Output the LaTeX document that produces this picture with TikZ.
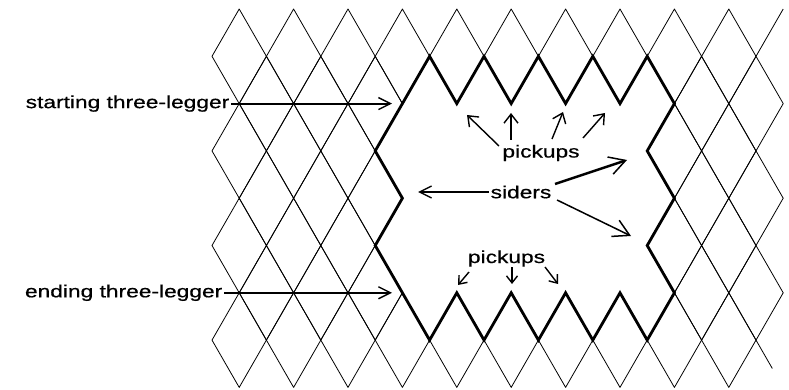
\documentclass[tikz,border=0pt]{standalone}
\usepackage{fontspec}
\setmainfont{Liberation Sans}
\newfontfamily\labfont[FakeStretch=1.3,FakeBold=0.6]{Liberation Sans}
\usetikzlibrary{arrows.meta}
\begin{document}
\begin{tikzpicture}[x=1pt,y=-1pt,
  latt/.style={line width=0.8pt, line join=round},
  rim/.style={line width=2.8pt, line join=miter},
  lab/.style={font=\labfont\fontsize{17.5}{20}\selectfont, inner sep=1.5pt},
  longarr/.style={line width=#1, -{Straight Barb[length=12pt,width=12pt,line width=1.4pt]}},
  sidearr/.style={line width=#1, -{Straight Barb[length=16pt,width=18pt,line width=1.5pt]}},
  uparr/.style={line width=1.4pt, -{Straight Barb[length=9pt,width=14pt,line width=1.4pt]}},
  downarr/.style={line width=1.4pt, -{Straight Barb[length=7pt,width=11pt,line width=1.4pt]}}
]
\path[use as bounding box] (0,0) rectangle (789,390);
\fill[white] (0,0) rectangle (789,390);

% lattice of diamonds
\begin{scope}[shift={(212pt,-9pt)},x=27.2pt,y=-47.3pt]
  \foreach \i in {1,...,20}{
    \foreach \j in {1,...,7}{
      \pgfmathtruncatemacro\s{\i+\j}
      \ifodd\s\relax\else
        \draw[latt] (\i-1,\j) -- (\i,\j-1) -- (\i+1,\j) -- (\i,\j+1) -- cycle;
      \fi
    }
  }
  \draw[latt] (20,1) -- (21,0);
  \draw[latt] (20,7) -- (20.6,7.6);
  % the hole
  \fill[white] (8,1) -- (9,2) -- (10,1) -- (11,2) -- (12,1) -- (13,2) -- (14,1) -- (15,2) -- (16,1)
    -- (17,2) -- (16,3) -- (17,4) -- (16,5) -- (17,6) -- (16,7)
    -- (15,6) -- (14,7) -- (13,6) -- (12,7) -- (11,6) -- (10,7) -- (9,6) -- (8,7)
    -- (7,6) -- (6,5) -- (7,4) -- (6,3) -- (7,2) -- cycle;
  \draw[rim] (8,1) -- (9,2) -- (10,1) -- (11,2) -- (12,1) -- (13,2) -- (14,1) -- (15,2) -- (16,1)
    -- (17,2) -- (16,3) -- (17,4) -- (16,5) -- (17,6) -- (16,7)
    -- (15,6) -- (14,7) -- (13,6) -- (12,7) -- (11,6) -- (10,7) -- (9,6) -- (8,7)
    -- (7,6) -- (6,5) -- (7,4) -- (6,3) -- (7,2) -- cycle;
\end{scope}

% labels
\node[lab, anchor=east] (start) at (231,103.6) {starting three-legger};
\node[lab, anchor=east] (ending) at (224,292.8) {ending three-legger};
\node[lab] (pu) at (541,153) {pickups};
\node[lab] (siders) at (521,192) {siders};
\node[lab] (pd) at (506.5,258.5) {pickups};

% arrow targets and starts
\coordinate (startTip) at (392,103.6);
\coordinate (endTip) at (392,292.8);
\coordinate (u1s) at (499,146);  \coordinate (u1e) at (467,115);
\coordinate (u2s) at (511,140);  \coordinate (u2e) at (511,113);
\coordinate (u3s) at (552,139);  \coordinate (u3e) at (563,112);
\coordinate (u4s) at (583,138);  \coordinate (u4e) at (605,113);
\coordinate (sL) at (418,192);
\coordinate (s2s) at (555,184);  \coordinate (s2e) at (627,160);
\coordinate (s3s) at (557,200);  \coordinate (s3e) at (631,236);
\coordinate (d1s) at (469,272);  \coordinate (d1e) at (458,285);
\coordinate (d2s) at (512,267);  \coordinate (d2e) at (512,284);
\coordinate (d3s) at (545,267);  \coordinate (d3e) at (558,284);

\draw[longarr=2pt] (start.east) -- (startTip);
\draw[longarr=1.4pt] (ending.east) -- (endTip);
\draw[uparr] (u1s) -- (u1e);
\draw[uparr] (u2s) -- (u2e);
\draw[uparr] (u3s) -- (u3e);
\draw[uparr] (u4s) -- (u4e);
\draw[longarr=1.4pt] (siders.west) -- (siders.west -| sL);
\draw[sidearr=2.4pt] (s2s) -- (s2e);
\draw[sidearr=1.5pt] (s3s) -- (s3e);
\draw[downarr] (d1s) -- (d1e);
\draw[downarr] (d2s) -- (d2e);
\draw[downarr] (d3s) -- (d3e);
\end{tikzpicture}
\end{document}
